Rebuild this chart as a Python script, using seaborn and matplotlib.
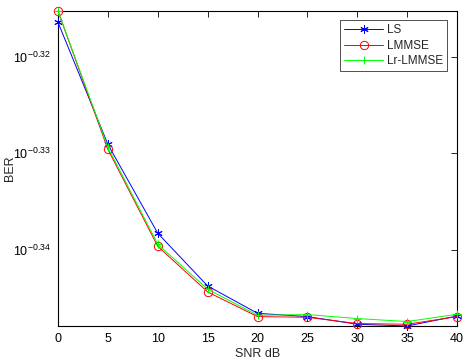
import numpy as np
import pandas as pd
import matplotlib
matplotlib.use("Agg")
import matplotlib.pyplot as plt
import seaborn as sns

snr = [0, 5, 10, 15, 20, 25, 30, 35, 40]
ls_exp = [-0.31645, -0.32907, -0.33827, -0.34372, -0.34655, -0.34689, -0.34768, -0.34786, -0.34683]
lmmse_exp = [-0.31528, -0.32959, -0.33962, -0.34434, -0.34689, -0.34696, -0.34761, -0.34768, -0.34689]
lr_exp = [-0.31528, -0.32938, -0.33941, -0.34406, -0.34675, -0.34668, -0.34709, -0.34740, -0.34665]
series_names = ["LS", "LMMSE", "Lr-LMMSE"]
ytick_exps = [-0.32, -0.33, -0.34]

rows = []
for name, ex in zip(series_names, [ls_exp, lmmse_exp, lr_exp]):
    for s, e in zip(snr, ex):
        rows.append({"SNR": s, "BER": 10 ** e, "method": name})
df = pd.DataFrame(rows)

sns.set_style("white")
plt.rcParams['font.family'] = ['Liberation Sans', 'DejaVu Sans']
plt.rcParams['mathtext.fontset'] = 'custom'
plt.rcParams['mathtext.rm'] = 'Liberation Sans'
plt.rcParams['mathtext.it'] = 'Liberation Sans'

fig = plt.figure(figsize=(4.65, 3.61), dpi=100)
ax = fig.add_axes([0.1247, 0.097, 0.983 - 0.1247, 0.9695 - 0.097])

colors = {"LS": "#0000ff", "LMMSE": "#ff0000", "Lr-LMMSE": "#00ff00"}
markers = {"LS": (6, 2, 0), "LMMSE": "o", "Lr-LMMSE": "+"}
for name in series_names:
    sub = df[df["method"] == name]
    mfc = "none" if name == "LMMSE" else colors[name]
    sns.lineplot(data=sub, x="SNR", y="BER", ax=ax, color=colors[name], lw=0.7,
                 marker=markers[name], markersize=6, markerfacecolor=mfc,
                 markeredgecolor=colors[name], markeredgewidth=0.7, label=name,
                 clip_on=False, zorder=3)

ax.set_yscale("log")
allv = df["BER"].values
ax.set_ylim(allv.min(), allv.max())
ax.set_xlim(min(snr), max(snr))
ax.set_xticks(snr)
ax.set_xticklabels([str(s) for s in snr])
ax.set_yticks([10 ** e for e in ytick_exps])
ax.set_yticklabels([r"$10^{%g}$" % e for e in ytick_exps])
ax.yaxis.set_minor_locator(matplotlib.ticker.NullLocator())
ax.tick_params(axis="x", direction="in", top=True, labelsize=9, length=4, width=0.6, colors="black", pad=5)
ax.tick_params(axis="y", direction="in", right=True, labelsize=9, length=4, width=0.6, colors="black", pad=5)
for sp in ax.spines.values():
    sp.set_color("black")
    sp.set_linewidth(0.8)
ax.set_xlabel("SNR dB", fontsize=9, labelpad=2)
ax.set_ylabel("BER", fontsize=9, labelpad=4)
ax.yaxis.set_label_coords(-0.105, 0.5)
leg = ax.legend(loc="upper right", fontsize=8.5, frameon=True, fancybox=False,
                edgecolor="black", borderpad=0.35, handlelength=3.3, labelspacing=0.3,
                handletextpad=0.3, bbox_to_anchor=(0.99, 0.99))
leg.get_frame().set_linewidth(0.6)
fig.savefig("out.png", dpi=100)
